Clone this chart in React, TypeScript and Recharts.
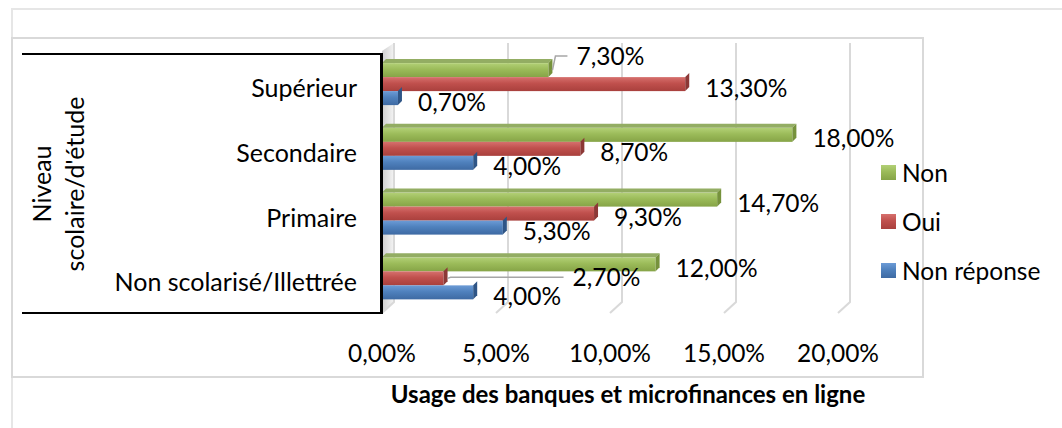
import React from 'react'
import { Bar, BarChart, CartesianGrid, LabelList, Legend, XAxis, YAxis } from 'recharts'

// Niveau scolaire (top to bottom, as drawn)
const categories = ['Supérieur', 'Secondaire', 'Primaire', 'Non scolarisé/Illettrée']
const nonValues = [7.3, 18.0, 14.7, 12.0]
const ouiValues = [13.3, 8.7, 9.3, 2.7]
const nonReponseValues = [0.7, 4.0, 5.3, 4.0]
const xTicks = [0, 5, 10, 15, 20]
const seriesKeys = ['non', 'oui', 'nr']
const seriesNames = ['Non', 'Oui', 'Non réponse']

const data = categories.map((c, i) => ({
    niveau: c,
    non: nonValues[i],
    oui: ouiValues[i],
    nr: nonReponseValues[i],
}))

const FONT = 'Lato, "Open Sans", sans-serif'
const FS = 24.5
const pct = (v: number) => v.toFixed(2).replace('.', ',') + '%'

const colors: Record<string, any> = {
    non: { top: '#b2d076', mid: '#9bbb59', bottom: '#86a447', side: '#76923c', cap: '#93ad63' },
    oui: { top: '#d6706d', mid: '#c0504d', bottom: '#a9403d', side: '#8c3836', cap: '#b5524f' },
    nr: { top: '#6c9bd6', mid: '#4f81bd', bottom: '#3e6aa3', side: '#2f5586', cap: '#5b86bd' },
}

// labels Excel moved away from the bar end (with a leader line)
const labelMoves: Record<string, Record<number, [number, number]>> = {
    non: { 0: [8, -18] },
    oui: { 3: [109, -5] },
}

function bar3d(key: string, withCap: boolean) {
    return (p: any) => {
        const { x, y, width, height } = p
        if (!width || width <= 0) return <g />
        const c = colors[key]
        const d = 4
        const r = x + width
        return (
            <g>
                <rect x={x} y={y} width={width} height={height} fill={`url(#grad-${key})`} />
                {withCap && <polygon points={`${x},${y} ${x + d},${y - d} ${r + d},${y - d} ${r},${y}`} fill={c.cap} />}
                <polygon points={`${r},${y} ${r + d},${y - d} ${r + d},${y + height - d} ${r},${y + height}`} fill={c.side} />
            </g>
        )
    }
}

function dataLabel(key: string) {
    return (p: any) => {
        const vb = p.viewBox || p
        const { x, y, width, height } = vb
        const end = x + width
        const cy = y + height / 2
        const move = labelMoves[key]?.[p.index]
        const lx = end + 20 + (move ? move[0] : 0)
        const ly = cy + 4 + (move ? move[1] : 0)
        return (
            <g>
                {move && <path d={`M${end + 4},${cy} L${end + 7},${ly} H${lx - 9}`} stroke="#a6a6a6" strokeWidth={1.5} fill="none" />}
                <text x={lx} y={ly} dy="0.35em" fontSize={FS} fontFamily={FONT} fill="#000">{pct(Number(p.value))}</text>
            </g>
        )
    }
}

const gridLine = (p: any) => {
    const { x1, y1, y2, index } = p
    const dx = 12
    if (index === 0) {
        return (
            <g key={p.key}>
                <polygon points={`${x1},${y1} ${x1 + dx},${y1 - 8} ${x1 + dx},${y2 - 8} ${x1},${y2 + 3}`} fill="url(#wall)" />
                <path d={`M${x1 + dx},${y1 - 8} V${y2 - 8} L${x1},${y2 + 3}`} stroke="#d9d9d9" strokeWidth={2} fill="none" />
            </g>
        )
    }
    return <path key={p.key} d={`M${x1 + dx},${y1 - 8} V${y2 - 8} L${x1},${y2 + 3}`} stroke="#d9d9d9" strokeWidth={2} fill="none" />
}

const XTick = (p: any) => (
    <text x={p.x} y={p.y + 43} dy="0.35em" textAnchor="middle" fontSize={FS} fontFamily={FONT} fill="#000">
        {pct(Number(p.payload.value))}
    </text>
)

const YTick = (p: any) => (
    <text x={p.x} y={p.y + 5} dy="0.35em" textAnchor="end" fontSize={25} fontFamily={FONT} fill="#000">
        {p.payload.value}
    </text>
)

const LegendBox = () => (
    <div style={{ fontFamily: FONT, fontSize: FS, color: '#000' }}>
        {seriesNames.map((n, i) => {
            const c = colors[seriesKeys[i]]
            return (
                <div key={n} style={{ height: 49, display: 'flex', alignItems: 'center' }}>
                    <span style={{ width: 15, height: 15, marginRight: 6, background: `linear-gradient(${c.top}, ${c.mid} 45%, ${c.bottom})` }} />
                    <span>{n}</span>
                </div>
            )
        })}
    </div>
)

export default function App() {
    return (
        <div style={{ position: 'absolute', left: 0, top: 0, width: 1062, height: 428, background: '#fff', overflow: 'hidden' }}>
            {/* chart area + plot area frames */}
            <div style={{ position: 'absolute', left: 11, top: 8, width: 1100, height: 500, borderTop: '2px solid #e6e6e6', borderLeft: '2px solid #e6e6e6' }} />
            <div style={{ position: 'absolute', left: 11, top: 37, width: 909, height: 337, border: '2px solid #d9d9d9' }} />
            <div style={{ position: 'absolute', left: 0, top: 0 }}>
                <BarChart width={1062} height={428} data={data} layout="vertical"
                    margin={{ top: 51, right: 224, left: 0, bottom: 0 }}
                    barCategoryGap="18.7%" barGap={0}>
                    <defs>
                        {seriesKeys.map(k => (
                            <linearGradient key={k} id={`grad-${k}`} x1="0" y1="0" x2="0" y2="1">
                                <stop offset="0%" stopColor={colors[k].top} />
                                <stop offset="45%" stopColor={colors[k].mid} />
                                <stop offset="100%" stopColor={colors[k].bottom} />
                            </linearGradient>
                        ))}
                        <linearGradient id="wall" x1="0" y1="0" x2="1" y2="0">
                            <stop offset="0%" stopColor="#cfcfcf" />
                            <stop offset="100%" stopColor="#f4f4f4" />
                        </linearGradient>
                    </defs>
                    <CartesianGrid horizontal={false} vertical={gridLine} />
                    <XAxis type="number" domain={[0, 20]} ticks={xTicks} height={118}
                        axisLine={false} tickLine={false} tickSize={0} tickMargin={0} tick={<XTick />}
                        label={{
                            content: (p: any) => (
                                <text x={p.viewBox.x + p.viewBox.width / 2 + 18} y={395} dy="0.35em" textAnchor="middle"
                                    fontSize={24} fontWeight="bold" fontFamily={FONT} fill="#000">
                                    Usage des banques et microfinances en ligne
                                </text>
                            ),
                        }} />
                    <YAxis type="category" dataKey="niveau" width={382}
                        axisLine={false} tickLine={false} tickSize={0} tickMargin={25} tick={<YTick />}
                        label={{
                            content: () => (
                                <g fontSize={25} fontFamily={FONT} fill="#000">
                                    <text transform="translate(42,184) rotate(-90)" dy="0.35em" textAnchor="middle">Niveau</text>
                                    <text transform="translate(75,184) rotate(-90)" dy="0.35em" textAnchor="middle">scolaire/d'étude</text>
                                </g>
                            ),
                        }} />
                    <Legend layout="vertical" align="center" verticalAlign="middle"
                        wrapperStyle={{ left: 881, top: 148, width: 181, height: 150 }}
                        content={<LegendBox />} />
                    <Bar dataKey="non" name="Non" isAnimationActive={false} shape={bar3d('non', true)}>
                        <LabelList dataKey="non" content={dataLabel('non')} />
                    </Bar>
                    <Bar dataKey="oui" name="Oui" isAnimationActive={false} shape={bar3d('oui', false)}>
                        <LabelList dataKey="oui" content={dataLabel('oui')} />
                    </Bar>
                    <Bar dataKey="nr" name="Non réponse" isAnimationActive={false} shape={bar3d('nr', false)}>
                        <LabelList dataKey="nr" content={dataLabel('nr')} />
                    </Bar>
                </BarChart>
            </div>
            {/* black frame around the category labels (axis line on its right) */}
            <div style={{ position: 'absolute', left: 22, top: 53, width: 358, height: 257, borderTop: '2.5px solid #000', borderBottom: '2.5px solid #000', borderRight: '3px solid #000', pointerEvents: 'none' }} />
        </div>
    )
}
